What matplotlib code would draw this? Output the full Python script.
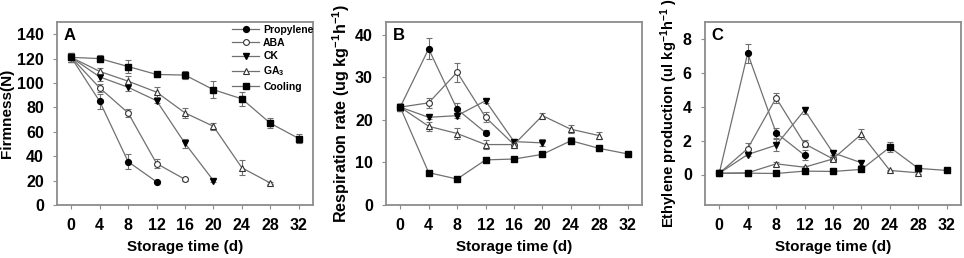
import matplotlib
matplotlib.use("Agg")
import matplotlib.pyplot as plt
from matplotlib.lines import Line2D
import numpy as np

plt.rcParams['font.family'] = ['Liberation Sans', 'DejaVu Sans']
plt.rcParams['font.weight'] = 'bold'
plt.rcParams['mathtext.fontset'] = 'custom'
plt.rcParams['mathtext.rm'] = 'Liberation Sans:bold'
plt.rcParams['mathtext.bf'] = 'Liberation Sans:bold'
plt.rcParams['mathtext.it'] = 'Liberation Sans:bold'
plt.rcParams['mathtext.default'] = 'bf'

days = [0, 4, 8, 12, 16, 20, 24, 28, 32]
series_names = ['Propylene', 'ABA', 'CK', 'GA$_3$', 'Cooling']

# Panel A: firmness (N)
firm_prop = [121, 85, 35.5, 19]
firm_prop_err = [3.5, 6, 6, 1]
firm_aba = [121, 96, 75.5, 34, 21]
firm_aba_err = [3.5, 3, 3, 4, 1]
firm_ck = [121, 105, 96.5, 85.5, 50.5, 20]
firm_ck_err = [3.5, 3, 3, 2, 4, 1.5]
firm_ga = [121, 109.5, 101.5, 92.5, 75.5, 64.5, 30.5, 18]
firm_ga_err = [3.5, 3, 4, 4, 4, 3, 6, 1]
firm_cool = [121, 120, 113.5, 107, 106.5, 94.5, 87, 67, 54.5]
firm_cool_err = [3.5, 3, 5, 2, 3, 7, 6, 4, 4]

# Panel B: respiration rate
resp_prop = [23, 36.7, 22.5, 17]
resp_prop_err = [0.8, 2.5, 1.5, 0.6]
resp_aba = [23, 24, 31.2, 20.6, 14.2]
resp_aba_err = [0.8, 1.2, 2.2, 1.2, 0.8]
resp_ck = [23, 20.6, 21, 24.5, 14.9, 14.6]
resp_ck_err = [0.8, 0.4, 0.6, 0.5, 0.5, 0.8]
resp_ga = [23, 18.5, 16.8, 14.2, 14.2, 21, 17.8, 16.3]
resp_ga_err = [0.8, 1, 1.3, 1, 0.8, 0.6, 0.9, 0.9]
resp_cool = [23, 7.6, 6.1, 10.6, 10.8, 11.9, 15.1, 13.3, 12]
resp_cool_err = [0.8, 0.5, 0.4, 0.5, 0.5, 0.5, 0.8, 0.5, 0.5]

# Panel C: ethylene production
eth_prop = [0.07, 7.15, 2.46, 1.14]
eth_prop_err = [0.05, 0.55, 0.3, 0.3]
eth_aba = [0.07, 1.53, 4.52, 1.81, 0.92]
eth_aba_err = [0.05, 0.3, 0.3, 0.2, 0.1]
eth_ck = [0.07, 1.18, 1.73, 3.8, 1.28, 0.69]
eth_ck_err = [0.05, 0.1, 0.35, 0.2, 0.1, 0.1]
eth_ga = [0.07, 0.1, 0.63, 0.43, 0.92, 2.38, 0.24, 0.1]
eth_ga_err = [0.05, 0.05, 0.1, 0.05, 0.1, 0.3, 0.05, 0.05]
eth_cool = [0.07, 0.08, 0.06, 0.2, 0.18, 0.3, 1.61, 0.36, 0.24]
eth_cool_err = [0.05, 0.05, 0.05, 0.05, 0.05, 0.05, 0.3, 0.05, 0.05]

styles = [
    dict(marker='o', mfc='black', mec='black', ms=4.2),
    dict(marker='o', mfc='white', mec='#333333', ms=4.2, mew=0.8),
    dict(marker='v', mfc='black', mec='black', ms=4.5),
    dict(marker='^', mfc='white', mec='#333333', ms=4.2, mew=0.8),
    dict(marker='s', mfc='black', mec='black', ms=4.0),
]

panels = [
    ([firm_prop, firm_aba, firm_ck, firm_ga, firm_cool],
     [firm_prop_err, firm_aba_err, firm_ck_err, firm_ga_err, firm_cool_err],
     'Firmness(N)', (0, 150), [0, 20, 40, 60, 80, 100, 120, 140], 'A', 11),
    ([resp_prop, resp_aba, resp_ck, resp_ga, resp_cool],
     [resp_prop_err, resp_aba_err, resp_ck_err, resp_ga_err, resp_cool_err],
     'Respiration rate (ug kg$^{-1}$h$^{-1}$)', (0, 43), [0, 10, 20, 30, 40], 'B', 11.6),
    ([eth_prop, eth_aba, eth_ck, eth_ga, eth_cool],
     [eth_prop_err, eth_aba_err, eth_ck_err, eth_ga_err, eth_cool_err],
     'Ethylene production (ul kg$^{-1}$h$^{-1}$ )', (-1.8, 9), [0, 2, 4, 6, 8], 'C', 10.6),
]

W, H = 964, 258
fig = plt.figure(figsize=(W / 100, H / 100), dpi=100)
rects = [(57, 313), (386, 642), (705, 961)]
top, bottom = 22, 205

spine_c = '#8c8c8c'
line_c = '#707070'

for (vals, errs, ylabel, ylim, yticks, letter, ylfs), (l, r) in zip(panels, rects):
    ax = fig.add_axes([l / W, 1 - bottom / H, (r - l) / W, (bottom - top) / H])
    for v, e, st, name in zip(vals, errs, styles, series_names):
        x = days[:len(v)]
        ax.errorbar(x, v, yerr=e, color=line_c, lw=0.9, ecolor=line_c,
                    elinewidth=0.8, capsize=2.5, capthick=0.8, zorder=2,
                    **st)
    ax.set_xlim(-2, 34)
    ax.set_ylim(*ylim)
    ax.set_xticks(days)
    ax.set_yticks(yticks)
    for s in ax.spines.values():
        s.set_color(spine_c)
        s.set_linewidth(1.3)
    ax.tick_params(direction='out', length=3, width=0.8, color=spine_c,
                   labelsize=11.5, pad=6.5)
    for lab in ax.get_xticklabels() + ax.get_yticklabels():
        lab.set_fontweight('bold')
    ax.set_xlabel('Storage time (d)', fontsize=11, fontweight='bold', labelpad=5)
    ax.set_ylabel(ylabel, fontsize=ylfs, fontweight='bold', labelpad=2)
    ax.text(0.025, 0.965, letter, transform=ax.transAxes, fontsize=12,
            fontweight='bold', va='top', ha='left')
    if letter == 'A':
        handles = [Line2D([], [], color=line_c, lw=0.9, **st) for st in styles]
        leg = ax.legend(handles, series_names, loc='upper left',
                        bbox_to_anchor=(0.675, 1.0),
                        frameon=False, fontsize=7.5, handlelength=2.6,
                        handletextpad=0.35, labelspacing=0.32, borderpad=0.25,
                        borderaxespad=0.0)
        for t in leg.get_texts():
            t.set_fontweight('bold')

fig.savefig('out.png', dpi=100)
